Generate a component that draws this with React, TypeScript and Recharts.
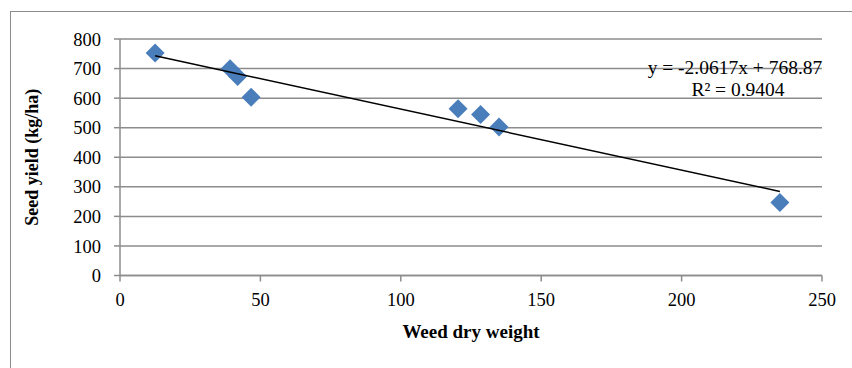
import React from 'react';
import { ScatterChart, Scatter, XAxis, YAxis, CartesianGrid } from 'recharts';

// values
const weedDryWeight = [12.5, 39.2, 41.9, 46.7, 120.4, 128.4, 135, 235];
const seedYield = [753, 699, 673, 603, 564, 545, 502, 247];
const xTicks = [0, 50, 100, 150, 200, 250];
const yTicks = [0, 100, 200, 300, 400, 500, 600, 700, 800];

// Excel linear trendline as printed on the chart
const TREND_SLOPE = -2.0617;
const TREND_INTERCEPT = 768.87;
const trendLabel = 'y = -2.0617x + 768.87';
const r2Label = 'R² = 0.9404';

const points = weedDryWeight.map((x, i) => ({ x, y: seedYield[i] }));
const xMin = Math.min(...weedDryWeight);
const xMax = Math.max(...weedDryWeight);
const trendData = [
  { x: xMin, y: TREND_SLOPE * xMin + TREND_INTERCEPT },
  { x: xMax, y: TREND_SLOPE * xMax + TREND_INTERCEPT },
];

const GRAY = '#8c8c8c';
const FONT = '"Liberation Serif", "Times New Roman", serif';

const Diamond = (props: any) => {
  const { cx, cy } = props;
  const r = 9.5;
  return (
    <path
      d={`M${cx},${cy - r}L${cx + r},${cy}L${cx},${cy + r}L${cx - r},${cy}Z`}
      fill="#4a7ebb"
    />
  );
};

const YTitle = ({ viewBox }: any) => {
  const cy = viewBox.y + viewBox.height / 2;
  const cx = 32;
  return (
    <text
      x={cx}
      y={cy}
      transform={`rotate(-90 ${cx} ${cy})`}
      textAnchor="middle"
      dominantBaseline="central"
      fontFamily={FONT}
      fontWeight="bold"
      fontSize={18}
      fill="#000"
    >
      Seed yield (kg/ha)
    </text>
  );
};

const XTitle = ({ viewBox }: any) => {
  const cx = viewBox.x + viewBox.width / 2;
  return (
    <text
      x={cx}
      y={331}
      textAnchor="middle"
      dominantBaseline="central"
      fontFamily={FONT}
      fontWeight="bold"
      fontSize={19}
      fill="#000"
    >
      Weed dry weight
    </text>
  );
};

const App = () => {
  return (
    <div style={{ position: 'relative', width: 852, height: 368, overflow: 'hidden', background: '#fff', fontFamily: FONT }}>
      <style>{`body{margin:0}`}</style>
      <div
        style={{
          position: 'absolute',
          left: 10,
          top: 11,
          width: 860,
          height: 400,
          borderTop: `1.5px solid ${GRAY}`,
          borderLeft: `1.5px solid ${GRAY}`,
        }}
      />
      <div style={{ position: 'absolute', left: 0, top: 0 }}>
        <ScatterChart width={852} height={368} margin={{ top: 39, right: 30, bottom: 52.5, left: 50 }}>
          <CartesianGrid vertical={false} stroke={GRAY} strokeWidth={1.5} />
          <XAxis
            type="number"
            dataKey="x"
            domain={[0, 250]}
            ticks={xTicks}
            height={40}
            stroke={GRAY}
            strokeWidth={1.5}
            tickSize={6}
            tickMargin={11}
            tick={{ fill: '#000', fontSize: 18.5, fontFamily: FONT }}
            label={<XTitle />}
          />
          <YAxis
            type="number"
            dataKey="y"
            domain={[0, 800]}
            ticks={yTicks}
            width={70}
            stroke={GRAY}
            strokeWidth={1.5}
            tickSize={6}
            tickMargin={13}
            tick={{ fill: '#000', fontSize: 18.5, fontFamily: FONT }}
            label={<YTitle />}
          />
          <Scatter data={points} shape={<Diamond />} isAnimationActive={false} />
          <Scatter
            data={trendData}
            line={{ stroke: '#000', strokeWidth: 1.5 }}
            shape={() => <g />}
            isAnimationActive={false}
          />
        </ScatterChart>
      </div>
      <div style={{ position: 'absolute', left: 735, top: 68, transform: 'translate(-50%, -50%)', fontSize: 19.5, whiteSpace: 'nowrap', lineHeight: 1 }}>
        {trendLabel}
      </div>
      <div style={{ position: 'absolute', left: 738, top: 90, transform: 'translate(-50%, -50%)', fontSize: 19.5, whiteSpace: 'nowrap', lineHeight: 1 }}>
        {r2Label}
      </div>
    </div>
  );
};

export default App;
